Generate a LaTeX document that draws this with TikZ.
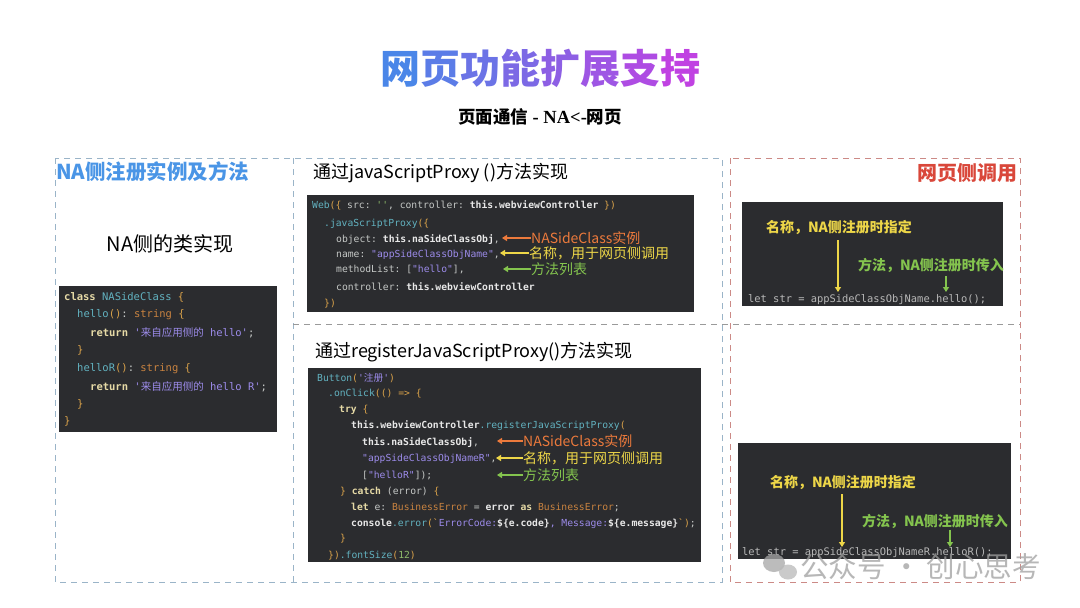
\documentclass[tikz,border=0pt]{standalone}
\usepackage{fontspec}
\setmainfont{Noto Sans CJK SC}
\setmonofont{DejaVu Sans Mono}
\newfontfamily\cjk{Noto Sans CJK SC}
\newfontfamily\serifb{Liberation Serif}
\usetikzlibrary{arrows.meta}
\definecolor{codebg}{HTML}{2B2C2F}
\definecolor{cdef}{HTML}{C5C8C6}
\definecolor{cbold}{HTML}{E8E8E8}
\definecolor{corange}{HTML}{D9A24A}
\definecolor{cpurp}{HTML}{9C8BEA}
\definecolor{cteal}{HTML}{62B2C0}
\definecolor{ckw}{HTML}{E6DAA6}
\definecolor{ctype}{HTML}{C98340}
\definecolor{cgrn}{HTML}{8DBA6A}
\definecolor{cgray}{HTML}{B8B8B8}
\definecolor{aorange}{HTML}{EC7A3C}
\definecolor{ayellow}{HTML}{EDD648}
\definecolor{agreen}{HTML}{84C44E}
\definecolor{tblue}{HTML}{4A86E8}
\definecolor{tpurp}{HTML}{C042E2}
\definecolor{bluedash}{HTML}{9AB4C8}
\definecolor{reddash}{HTML}{CC8A86}
\definecolor{graydash}{HTML}{9A9A9A}
\definecolor{blueh}{HTML}{4A95E6}
\definecolor{redh}{HTML}{D9473A}
\newcommand{\cOr}[1]{\textcolor{corange}{#1}}
\newcommand{\cPu}[1]{\textcolor{cpurp}{#1}}
\newcommand{\cTe}[1]{\textcolor{cteal}{#1}}
\newcommand{\cBo}[1]{\textcolor{cbold}{\bfseries #1}}
\newcommand{\cKw}[1]{\textcolor{ckw}{\bfseries #1}}
\newcommand{\cTy}[1]{\textcolor{ctype}{#1}}
\newcommand{\cGr}[1]{\textcolor{cgrn}{#1}}
\tikzset{
  codebox/.style={fill=codebg, draw=none},
  codeA/.style={anchor=base west, inner sep=0pt, text=cdef, font=\ttfamily\fontsize{10.5}{11}\selectfont},
  codeB/.style={anchor=base west, inner sep=0pt, text=cdef, font=\ttfamily\fontsize{9.7}{10}\selectfont},
  codeC/.style={anchor=base west, inner sep=0pt, text=cgray, font=\ttfamily\fontsize{10.4}{11}\selectfont},
  ann/.style={anchor=west, inner sep=0pt, font=\fontsize{14}{14}\selectfont},
  annb/.style={anchor=center, inner sep=0pt, font=\bfseries\fontsize{14}{14}\selectfont},
  annarrow/.style={line width=1.8pt, -{Triangle[length=5pt,width=6pt]}},
  dashline/.style={line width=0.8pt, dash pattern=on 6pt off 5pt},
  heading/.style={anchor=west, inner sep=0pt, font=\fontsize{18}{18}\selectfont},
}
\begin{document}
\begin{tikzpicture}[x=1pt,y=-1pt]
\useasboundingbox (0,0) rectangle (1080,608);
\fill[white] (0,0) rectangle (1080,608);

% title
\node[inner sep=0pt, font=\bfseries\fontsize{40}{40}\selectfont] (title) at (540,68)
 {\textcolor{tblue}{网}\textcolor{tpurp!14!tblue}{页}\textcolor{tpurp!28!tblue}{功}\textcolor{tpurp!42!tblue}{能}\textcolor{tpurp!57!tblue}{扩}\textcolor{tpurp!71!tblue}{展}\textcolor{tpurp!85!tblue}{支}\textcolor{tpurp}{持}};
\node[inner sep=0pt, font=\bfseries\fontsize{17.5}{17.5}\selectfont] (subtitle) at (540,117)
 {页面通信{\serifb\bfseries\fontsize{18.5}{18.5}\selectfont{} - NA<-}网页};

% dashed frames
\draw[dashline, bluedash] (55,158) rectangle (722,582);
\draw[dashline, bluedash] (293,158) -- (293,582);
\draw[dashline, graydash, line width=0.7pt] (293,324) -- (1020,324);
\draw[dashline, reddash] (730,158) rectangle (1020,582);

% headings
\node[anchor=west, inner sep=0pt, text=blueh, font=\bfseries\fontsize{20.5}{20.5}\selectfont] (hNA) at (56,172) {NA侧注册实例及方法};
\node[inner sep=0pt, font=\fontsize{20}{20}\selectfont] (hcls) at (170,244) {NA侧的类实现};
\node[heading] (hjs) at (313,173) {通过javaScriptProxy ()方法实现};
\node[heading] (hreg) at (315,352) {通过registerJavaScriptProxy()方法实现};
\node[anchor=east, inner sep=0pt, text=redh, font=\bfseries\fontsize{20}{20}\selectfont] (hweb) at (1018,173) {网页侧调用};

% code boxes
\fill[codebox] (59,286) rectangle (277,432);
\fill[codebox] (307,195) rectangle (694,312);
\fill[codebox] (308,368) rectangle (701,562);
\fill[codebox] (742,202) rectangle (1003,306);
\fill[codebox] (738,443) rectangle (1011,559);

% box 1
\node[codeA] (a1) at (64,300) {\cKw{class} \cTe{NASideClass} \cOr{\{}};
\node[codeA] (a2) at (77,317) {\cTe{hello}\cOr{()}: \cTy{string} \cOr{\{}};
\node[codeA] (a3) at (90,336) {\cKw{return} \cPu{'{\cjk 来自应用侧的} hello'};};
\node[codeA] (a4) at (77,353) {\cOr{\}}};
\node[codeA] (a5) at (77,371) {\cTe{helloR}\cOr{()}: \cTy{string} \cOr{\{}};
\node[codeA] (a6) at (90,390) {\cKw{return} \cPu{'{\cjk 来自应用侧的} hello R'};};
\node[codeA] (a7) at (77,407) {\cOr{\}}};
\node[codeA] (a8) at (64,424) {\cOr{\}}};

% box 2
\node[codeB] (b1) at (312,208) {\cTe{Web}\cOr{(\{} src: \cGr{''}, controller: \cBo{this.webviewController} \cOr{\})}};
\node[codeB] (b2) at (324,226) {\cTe{.javaScriptProxy}\cOr{(\{}};
\node[codeB] (b3) at (336,242) {object: \cBo{this.naSideClassObj},};
\node[codeB] (b4) at (336,257) {name: \cPu{"appSideClassObjName"},};
\node[codeB] (b5) at (336,272) {methodList: [\cPu{"hello"}],};
\node[codeB] (b6) at (336,290) {controller: \cBo{this.webviewController}};
\node[codeB] (b7) at (324,306) {\cOr{\})}};

\node[ann, text=aorange] (n1) at (531,238) {NASideClass实例};
\node[ann, text=ayellow] (n2) at (529,253) {名称，用于网页侧调用};
\node[ann, text=agreen] (n3) at (531,269) {方法列表};
\coordinate (n1a) at (502,238);
\coordinate (n2a) at (500,253);
\coordinate (n3a) at (503,269);
\draw[annarrow, aorange] (n1.west) -- (n1a);
\draw[annarrow, ayellow] (n2.west) -- (n2a);
\draw[annarrow, agreen] (n3.west) -- (n3a);

% box 3
\node[codeB] (c1) at (317,381) {\cTe{Button}\cOr{(}\cPu{'{\cjk 注册}'}\cOr{)}};
\node[codeB] (c2) at (328,396) {\cTe{.onClick}\cOr{(() =>} \cOr{\{}};
\node[codeB] (c3) at (339,412) {\cKw{try} \cOr{\{}};
\node[codeB] (c4) at (351,428) {\cBo{this.webviewController}\cTe{.registerJavaScriptProxy}\cOr{(}};
\node[codeB] (c5) at (362,445) {\cBo{this.naSideClassObj},};
\node[codeB] (c6) at (362,461) {\cPu{"appSideClassObjNameR"},};
\node[codeB] (c7) at (362,478) {[\cPu{"helloR"}]);};
\node[codeB] (c8) at (340,494) {\cOr{\}} \cKw{catch} (error) \cOr{\{}};
\node[codeB] (c9) at (351,510) {\cKw{let} e: \cTy{BusinessError} = \cBo{error} \cKw{as} \cTy{BusinessError};};
\node[codeB] (c10) at (351,526) {\cBo{console}\cTe{.error}\cOr{(`}\cPu{ErrorCode:}\cBo{\$\{e.code\}}\cPu{, Message:}\cBo{\$\{e.message\}}\cOr{`)};};
\node[codeB] (c11) at (340,541) {\cOr{\}}};
\node[codeB] (c12) at (328,558) {\cOr{\})}\cTe{.fontSize}\cOr{(}\cGr{12}\cOr{)}};

\node[ann, text=aorange] (m1) at (523,441) {NASideClass实例};
\node[ann, text=ayellow] (m2) at (523,458) {名称，用于网页侧调用};
\node[ann, text=agreen] (m3) at (523,475) {方法列表};
\coordinate (m1a) at (497,441);
\coordinate (m2a) at (496,458);
\coordinate (m3a) at (497,475);
\draw[annarrow, aorange] (m1.west) -- (m1a);
\draw[annarrow, ayellow] (m2.west) -- (m2a);
\draw[annarrow, agreen] (m3.west) -- (m3a);

% box 4
\node[codeC] (d1) at (748,302) {let str = appSideClassObjName.hello();};
\node[annb, text=ayellow] (p1) at (839,228) {名称，NA侧注册时指定};
\node[annb, text=agreen] (p2) at (931,265) {方法，NA侧注册时传入};
\coordinate (p1s) at (838,240);
\coordinate (p1e) at (838,292);
\coordinate (p2s) at (946,276);
\coordinate (p2e) at (946,292);
\draw[annarrow, ayellow] (p1s) -- (p1e);
\draw[annarrow, agreen] (p2s) -- (p2e);

% box 5
\node[codeC] (e1) at (742,555) {let str = appSideClassObjNameR.helloR();};
\node[annb, text=ayellow] (q1) at (843,483) {名称，NA侧注册时指定};
\node[annb, text=agreen] (q2) at (935,521) {方法，NA侧注册时传入};
\coordinate (q1s) at (842,494);
\coordinate (q1e) at (842,547);
\coordinate (q2s) at (950,530);
\coordinate (q2e) at (950,547);
\draw[annarrow, ayellow] (q1s) -- (q1e);
\draw[annarrow, agreen] (q2s) -- (q2e);

% watermark
\begin{scope}[opacity=0.75]
\fill[gray!70] (774,563) ellipse (11pt and 9pt);
\fill[gray!55] (788,572) ellipse (9pt and 7.5pt);
\node[inner sep=0pt, anchor=west, text=gray!75, font=\fontsize{28.5}{28.5}\selectfont] (wm) at (800,567) {公众号 · 创心思考};
\end{scope}
\end{tikzpicture}
\end{document}
